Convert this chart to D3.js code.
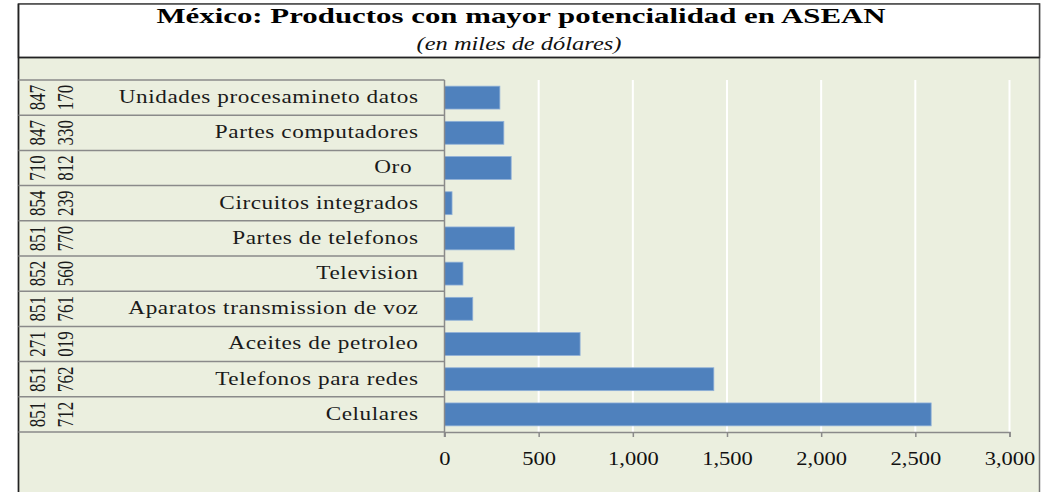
<!DOCTYPE html>
<html>
<head>
<meta charset="utf-8">
<script src="https://cdn.jsdelivr.net/npm/d3@7"></script>
<style>
  body { margin: 0; background: #fff; }
  text { font-family: 'Liberation Serif', 'Times New Roman', serif; }
</style>
</head>
<body>
<svg id="chart"></svg>
<script>
// data, top row first
var products = ['Unidades procesamineto datos', 'Partes computadores', 'Oro\u00a0',
                'Circuitos integrados', 'Partes de telefonos', 'Television',
                'Aparatos transmission de voz', 'Aceites de petroleo',
                'Telefonos para redes', 'Celulares'];
var codeA = ['847', '847', '710', '854', '851', '852', '851', '271', '851', '851'];
var codeB = ['170', '330', '812', '239', '770', '560', '761', '019', '762', '712'];
var values = [294, 315, 354, 40, 371, 98, 150, 720, 1430, 2584];
var xTicks = [0, 500, 1000, 1500, 2000, 2500, 3000];

var title = 'México: Productos con mayor potencialidad en ASEAN';
var subtitle = '(en miles de dólares)';

var width = 1043, height = 492;
var svg = d3.select('#chart')
            .attr('width', width)
            .attr('height', height);

var bg = '#ebefdf';
var lineCol = '#8a8a8a';

// frame
svg.append('rect')
    .attr('x', 18.5).attr('y', 4)
    .attr('width', 1039.5 - 18.5).attr('height', height)
    .attr('fill', bg)
    .attr('stroke', '#777').attr('stroke-width', 1.5);
svg.append('rect')
    .attr('x', 18.5).attr('y', 4)
    .attr('width', 1039.5 - 18.5).attr('height', 57.5 - 4)
    .attr('fill', '#fff')
    .attr('stroke', '#444').attr('stroke-width', 1.5);
svg.append('line')
    .attr('x1', 18.5).attr('x2', 18.5)
    .attr('y1', 4).attr('y2', height)
    .attr('stroke', '#222').attr('stroke-width', 1.5);
svg.append('line')
    .attr('x1', 18.5).attr('x2', 1039.5)
    .attr('y1', 57.5).attr('y2', 57.5)
    .attr('stroke', '#222').attr('stroke-width', 1.5);

svg.append('text')
    .attr('transform', 'translate(521, 22.7) scale(1.47, 1)')
    .style('text-anchor', 'middle')
    .style('font-size', '21px')
    .style('font-weight', 'bold')
    .attr('fill', '#000')
    .text(title);

svg.append('text')
    .attr('transform', 'translate(519, 50) scale(1.36, 1)')
    .style('text-anchor', 'middle')
    .style('font-size', '18px')
    .style('font-style', 'italic')
    .attr('fill', '#111')
    .text(subtitle);

var padding = { top: 80, bottom: 432, left: 444.5, right: 1009.5 };

var xScale = d3.scaleLinear()
                .domain([0, 3000])
                .range([padding.left, padding.right]);

var yScale = d3.scaleBand()
                .domain(products)
                .range([padding.top, padding.bottom])
                .paddingInner(0.35)
                .paddingOuter(0.175);

// vertical gridlines
svg.append('g')
    .selectAll('line')
    .data(xTicks.slice(1))
    .enter()
    .append('line')
        .attr('x1', d => xScale(d)).attr('x2', d => xScale(d))
        .attr('y1', padding.top).attr('y2', padding.bottom)
        .attr('stroke', '#fff')
        .attr('stroke-width', 2);

// row separators of the category table
var step = yScale.step();
var bounds = products.map(p => yScale(p) - step * yScale.paddingInner() / 2);
bounds.push(padding.bottom);
svg.append('g')
    .selectAll('line')
    .data(bounds)
    .enter()
    .append('line')
        .attr('x1', 18.5).attr('x2', padding.left)
        .attr('y1', d => d).attr('y2', d => d)
        .attr('stroke', lineCol)
        .attr('stroke-width', 1.5);

// bars
svg.append('g')
    .selectAll('rect')
    .data(values)
    .enter()
    .append('rect')
        .attr('x', xScale(0))
        .attr('y', (d, i) => yScale(products[i]))
        .attr('width', d => xScale(d) - xScale(0))
        .attr('height', yScale.bandwidth())
        .attr('fill', '#4f81bd')
        .attr('stroke', '#8fb0d8')
        .attr('stroke-width', 0.8);

// x axis
var xAxis = d3.axisBottom(xScale)
                .tickValues(xTicks)
                .tickSize(5)
                .tickPadding(15)
                .tickFormat(d3.format(',.0f'));
var gx = svg.append('g')
    .attr('transform', `translate(0, ${padding.bottom})`)
    .call(xAxis);
gx.select('.domain').attr('stroke', lineCol).attr('stroke-width', 1.5);
gx.selectAll('.tick line').attr('stroke', lineCol).attr('stroke-width', 1.5);
gx.selectAll('.tick text')
    .attr('transform', 'scale(1.25, 1)')
    .style('font-size', '18px')
    .style('font-family', "'Liberation Serif', serif")
    .attr('fill', '#111');

// y axis with product names
var labelStretch = 1.29;
var yAxis = d3.axisLeft(yScale)
                .tickSize(0)
                .tickPadding(26 / labelStretch);
var gy = svg.append('g')
    .attr('transform', `translate(${padding.left}, 0)`)
    .call(yAxis);
gy.select('.domain').remove();
svg.append('line')
    .attr('x1', padding.left).attr('x2', padding.left)
    .attr('y1', padding.top).attr('y2', padding.bottom + 5)
    .attr('stroke', lineCol).attr('stroke-width', 1.5);
gy.selectAll('.tick text')
    .attr('transform', `scale(${labelStretch}, 1)`)
    .attr('dy', '0.3em')
    .style('font-size', '18px')
    .style('letter-spacing', '0.45px')
    .style('font-family', "'Liberation Serif', serif")
    .attr('fill', '#1a1a1a');

// rotated product codes
var codeCols = [[codeA, 37], [codeB, 65]];
codeCols.forEach(function(col) {
    svg.append('g')
        .selectAll('text')
        .data(col[0])
        .enter()
        .append('text')
            .attr('transform', (d, i) =>
                `translate(${col[1]}, ${yScale(products[i]) + yScale.bandwidth() / 2}) scale(1.39, 1) rotate(-90)`)
            .attr('dy', '0.35em')
            .style('text-anchor', 'middle')
            .style('font-size', '17px')
            .attr('fill', '#1a1a1a')
            .text(d => d);
});
</script>
</body>
</html>
